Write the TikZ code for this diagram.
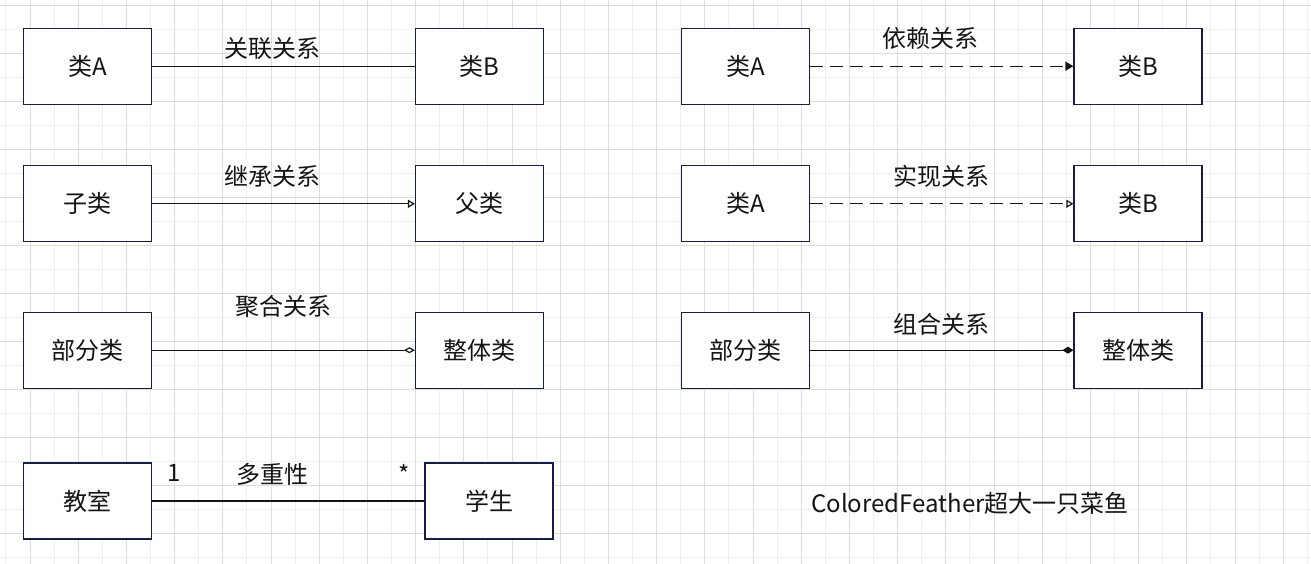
\documentclass[tikz,border=0pt]{standalone}
\usepackage{fontspec}
\setmainfont{Noto Sans CJK SC}
\usetikzlibrary{arrows.meta}

\definecolor{boxline}{RGB}{24,28,72}
\definecolor{gridlight}{RGB}{239,239,239}
\definecolor{griddark}{RGB}{221,221,221}
\definecolor{ink}{RGB}{20,20,20}

\begin{document}
\begin{tikzpicture}[x=1pt, y=-1pt,
    cls/.style={draw=boxline, line width=1.2pt, fill=white, minimum width=128pt, minimum height=76pt, inner sep=0pt, font=\fontsize{24}{28}\selectfont, text=ink},
    lbl/.style={font=\fontsize{24}{28}\selectfont, text=ink, inner sep=0pt},
    rel/.style={line width=1.2pt, draw=ink},
    gridminor/.style={draw=gridlight, line width=1pt},
    gridmajor/.style={draw=griddark, line width=1pt}]
    \fill[white] (0, 0) rectangle (1311, 564);
    \useasboundingbox (0, 0) rectangle (1311, 564);
    % grid
    \foreach \k in {0,...,54}
        \draw[gridminor] ({5.9+24.1*\k}, 0) -- ++(0, 564);
    \foreach \k in {0,...,23}
        \draw[gridminor] (0, {5.3+24*\k}) -- ++(1311, 0);
    \foreach \k in {1,3,...,53}
        \draw[gridmajor] ({5.9+24.1*\k}, 0) -- ++(0, 564);
    \foreach \k in {0,2,...,22}
        \draw[gridmajor] (0, {5.3+24*\k}) -- ++(1311, 0);

    % left column
    \node[cls] (assocA) at (87.5, 66.2) {类A};
    \node[cls] (assocB) at (479.5, 66.2) {类B};
    \draw[rel] (assocA) -- (assocB);
    \node[lbl] (assocL) at (272, 49) {关联关系};

    \node[cls] (child) at (87.5, 203.8) {子类};
    \node[cls] (parent) at (479.5, 203.8) {父类};
    \draw[rel, -{Triangle[open, length=7pt, width=8pt, fill=white]}] (child) -- (parent);
    \node[lbl] (inheritL) at (272, 176) {继承关系};

    \node[cls] (aggPart) at (87.5, 350.2) {部分类};
    \node[cls] (aggWhole) at (479.5, 350.2) {整体类};
    \draw[rel, -{Diamond[open, length=11pt, width=6pt, fill=white]}] (aggPart) -- (aggWhole);
    \node[lbl] (aggL) at (283, 306) {聚合关系};

    \node[cls] (room) at (87.5, 501) {教室};
    \node[cls] (student) at (489, 501) {学生};
    \draw[rel] (room) -- (student);
    \node[lbl] (multL) at (272, 474) {多重性};
    \node[lbl] (multOne) at (174, 473) {1};
    \node[lbl] (multMany) at (404, 474) {*};

    % right column
    \node[cls] (depA) at (745.5, 66.2) {类A};
    \node[cls] (depB) at (1138, 66.2) {类B};
    \draw[rel, dash pattern=on 13pt off 7pt, -{Triangle[length=8pt, width=9pt]}] (depA) -- (depB);
    \node[lbl] (depL) at (930, 38.5) {依赖关系};

    \node[cls] (implA) at (745.5, 203.8) {类A};
    \node[cls] (implB) at (1138, 203.8) {类B};
    \draw[rel, dash pattern=on 13pt off 7pt, -{Triangle[open, length=7pt, width=8pt, fill=white]}] (implA) -- (implB);
    \node[lbl] (implL) at (941, 176.7) {实现关系};

    \node[cls] (compPart) at (745.5, 350.2) {部分类};
    \node[cls] (compWhole) at (1138, 350.2) {整体类};
    \draw[rel, -{Diamond[length=11pt, width=7pt]}] (compPart) -- (compWhole);
    \node[lbl] (compL) at (941, 324) {组合关系};

    \node[lbl] (credit) at (970, 503) {ColoredFeather超大一只菜鱼};
\end{tikzpicture}
\end{document}
